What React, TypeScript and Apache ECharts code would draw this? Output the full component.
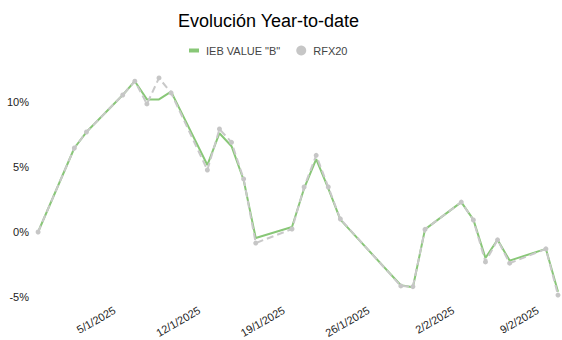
import React, { useEffect, useRef } from "react";
import * as echarts from "echarts";

const dates = [
  "2024-12-30", "2025-01-02", "2025-01-03", "2025-01-06", "2025-01-07",
  "2025-01-08", "2025-01-09", "2025-01-10", "2025-01-13", "2025-01-14",
  "2025-01-15", "2025-01-16", "2025-01-17", "2025-01-20", "2025-01-21",
  "2025-01-22", "2025-01-23", "2025-01-24", "2025-01-29", "2025-01-30",
  "2025-01-31", "2025-02-03", "2025-02-04", "2025-02-05", "2025-02-06",
  "2025-02-07", "2025-02-10", "2025-02-11",
];

const iebValues = [
  0, 6.46, 7.69, 10.54, 11.6, 10.2, 10.2, 10.8, 5.15, 7.6,
  6.6, 4.0, -0.46, 0.38, 3.35, 5.6, 3.35, 0.95, -4.1, -4.25,
  0.2, 2.3, 0.95, -2.0, -0.6, -2.2, -1.3, -4.6,
];

const rfxValues = [
  0, 6.46, 7.69, 10.54, 11.6, 9.85, 11.85, 10.7, 4.77, 7.92,
  6.9, 4.08, -0.85, 0.23, 3.46, 5.9, 3.46, 1.0, -4.15, -4.2,
  0.2, 2.3, 0.92, -2.3, -0.6, -2.4, -1.3, -4.85,
];

const seriesNames = ['IEB VALUE "B"', "RFX20"];
const titleText = "Evolución Year-to-date";

const DAY = 86400000;
const ref0 = Date.UTC(2025, 0, 5);
const dayOffset = (s: string) => {
  const [y, m, d] = s.split("-").map(Number);
  return Math.round((Date.UTC(y, m - 1, d) - ref0) / DAY);
};
const fmtDate = (v: number) => {
  const dt = new Date(ref0 + Math.round(v) * DAY);
  return `${dt.getUTCDate()}/${dt.getUTCMonth() + 1}/${dt.getUTCFullYear()}`;
};

const FONT = "'Liberation Sans', Arial, sans-serif";
const X_MIN = -7;
const X_MAX = 37;

export default function App() {
  const ref = useRef<HTMLDivElement>(null);
  useEffect(() => {
    document.body.style.margin = "0";
    const chart = echarts.init(ref.current!, null, { renderer: "svg" });
    chart.setOption({
      animation: false,
      backgroundColor: "#ffffff",
      title: {
        text: titleText,
        left: 173,
        top: 7,
        textStyle: { fontSize: 18, fontWeight: "normal", color: "#000", fontFamily: FONT },
      },
      legend: {
        left: 184,
        top: 40,
        itemWidth: 10,
        itemHeight: 10,
        itemGap: 16,
        textStyle: { fontSize: 11, color: "#444", fontFamily: FONT, padding: [0, 0, 0, 2] },
        itemStyle: { borderWidth: 0 },
        data: [
          { name: seriesNames[0], icon: "path://M0,0H10V4H0Z" },
          { name: seriesNames[1], icon: "circle" },
        ],
      },
      grid: [
        { left: 26, width: 532, top: 37, height: 260, containLabel: false },
        { left: 30, width: 532, top: 37, height: 260, containLabel: false },
      ],
      xAxis: [
        {
          type: "value",
          gridIndex: 0,
          min: X_MIN,
          max: X_MAX,
          interval: 7,
          axisLine: { show: false },
          axisTick: { show: false },
          splitLine: { show: false },
          axisLabel: { show: false },
        },
        {
          type: "value",
          gridIndex: 1,
          min: X_MIN,
          max: X_MAX,
          interval: 7,
          axisLine: { show: false },
          axisTick: { show: false },
          splitLine: { show: false },
          axisLabel: {
            rotate: 30,
            margin: 16,
            fontSize: 11,
            color: "#222",
            fontFamily: FONT,
            showMinLabel: false,
            showMaxLabel: false,
            formatter: (v: number) => fmtDate(v),
          },
        },
      ],
      yAxis: [
        {
          type: "value",
          gridIndex: 0,
          min: -5,
          max: 15,
          interval: 5,
          axisLine: { show: false },
          axisTick: { show: false },
          splitLine: { show: false },
          axisLabel: {
            margin: -3,
            fontSize: 11,
            color: "#222",
            fontFamily: FONT,
            showMaxLabel: false,
            formatter: "{value}%",
          },
        },
        {
          type: "value",
          gridIndex: 1,
          min: -5,
          max: 15,
          show: false,
        },
      ],
      series: [
        {
          name: seriesNames[0],
          type: "line",
          xAxisIndex: 0,
          yAxisIndex: 0,
          data: dates.map((d, i) => [dayOffset(d), iebValues[i]]),
          showSymbol: false,
          symbol: "none",
          lineStyle: { color: "#88c777", width: 2 },
          itemStyle: { color: "#88c777" },
          z: 2,
        },
        {
          name: seriesNames[1],
          type: "line",
          xAxisIndex: 0,
          yAxisIndex: 0,
          data: dates.map((d, i) => [dayOffset(d), rfxValues[i]]),
          symbol: "circle",
          symbolSize: 5,
          lineStyle: { color: "#c9c9c9", width: 2, type: [7, 4] },
          itemStyle: { color: "#c6c6c6" },
          z: 3,
        },
      ],
    });
    return () => chart.dispose();
  }, []);
  return <div ref={ref} style={{ width: 562, height: 340 }} />;
}
